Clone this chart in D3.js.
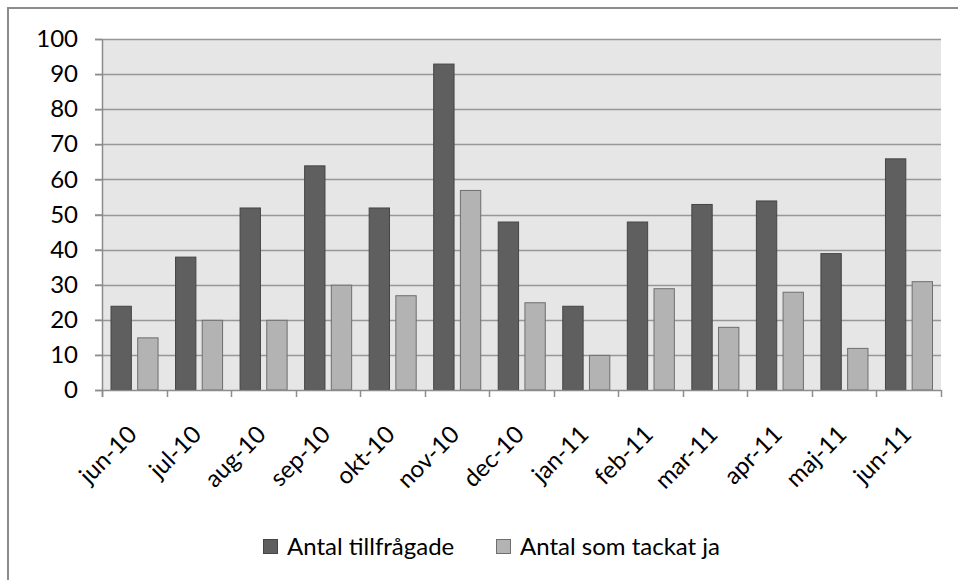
<!DOCTYPE html>
<html>
<head>
<meta charset="utf-8">
<script src="https://cdn.jsdelivr.net/npm/d3@7"></script>
<style>
  html, body { margin: 0; padding: 0; background: #fff; }
  svg { display: block; }
  text { font-family: Lato, "Open Sans", sans-serif; fill: #000; }
</style>
</head>
<body>
<svg id="chart" width="958" height="580"></svg>
<script>
const categories = ["jun-10","jul-10","aug-10","sep-10","okt-10","nov-10","dec-10","jan-11","feb-11","mar-11","apr-11","maj-11","jun-11"];
const seriesNames = ["Antal tillfrågade", "Antal som tackat ja"];
const tillfragade = [24, 38, 52, 64, 52, 93, 48, 24, 48, 53, 54, 39, 66];
const tackatJa = [15, 20, 20, 30, 27, 57, 25, 10, 29, 18, 28, 12, 31];
const yTicks = [0, 10, 20, 30, 40, 50, 60, 70, 80, 90, 100];

const fills = ["#5f5f5f", "#b3b3b3"];
const strokes = ["#454545", "#6e6e6e"];
const FS = 24;

const svg = d3.select("#chart");
const pLeft = 102, pRight = 941, pTop = 39, pBottom = 390;

// chart frame
svg.append("rect")
  .attr("x", 8).attr("y", 8).attr("width", 980).attr("height", 600)
  .attr("fill", "#fff").attr("stroke", "#8c8c8c").attr("stroke-width", 2);

const x0 = d3.scaleBand().domain(categories).range([pLeft, pRight]).padding(0);
const x1 = d3.scaleBand().domain([0, 1])
  .range([8.5, x0.bandwidth() - 8]).paddingInner(0.2);
const y = d3.scaleLinear().domain([0, 100]).range([pBottom, pTop]);

// plot background
svg.append("rect")
  .attr("x", pLeft).attr("y", pTop)
  .attr("width", pRight - pLeft).attr("height", pBottom - pTop)
  .attr("fill", "#e6e6e6");

// grid lines
svg.append("g")
  .selectAll("line").data(yTicks.filter(d => d > 0)).join("line")
  .attr("x1", pLeft - 7).attr("x2", pRight)
  .attr("y1", d => Math.round(y(d)) + 0.5).attr("y2", d => Math.round(y(d)) + 0.5)
  .attr("stroke", "#979797").attr("stroke-width", 1.5);

// bars
const data = categories.map((c, i) => ({ c, vals: [tillfragade[i], tackatJa[i]] }));
const groups = svg.append("g").selectAll("g").data(data).join("g")
  .attr("transform", d => `translate(${x0(d.c)},0)`);
groups.selectAll("rect").data(d => d.vals.map((v, k) => ({ v, k }))).join("rect")
  .attr("x", d => x1(d.k) + 0.5)
  .attr("width", x1.bandwidth() - 1)
  .attr("y", d => y(d.v) + 0.5)
  .attr("height", d => y(0) - y(d.v) - 0.5)
  .attr("fill", d => fills[d.k])
  .attr("stroke", d => strokes[d.k])
  .attr("stroke-width", 1);

// y axis
const yAxis = svg.append("g")
  .attr("transform", `translate(${pLeft},0)`)
  .call(d3.axisLeft(y).tickValues(yTicks).tickSize(7).tickPadding(17));
yAxis.select(".domain").attr("stroke", "#8c8c8c").attr("stroke-width", 1.5)
  .attr("d", `M0.5,${pTop}V${pBottom + 7}`);
yAxis.selectAll(".tick line").attr("stroke", "#8c8c8c").attr("stroke-width", 1.5);
yAxis.selectAll(".tick text")
  .attr("font-size", FS).attr("fill", "#000")
  .style("font-family", "Lato, sans-serif");

// x axis line & ticks at category boundaries
const xg = svg.append("g");
xg.append("line")
  .attr("x1", pLeft - 7).attr("x2", pRight)
  .attr("y1", pBottom + 0.5).attr("y2", pBottom + 0.5)
  .attr("stroke", "#8c8c8c").attr("stroke-width", 1.5);
const boundaries = categories.map(c => x0(c)).concat([x0.range()[1]]);
xg.selectAll("line.t").data(boundaries).join("line")
  .attr("class", "t")
  .attr("x1", d => Math.round(d) + 0.5).attr("x2", d => Math.round(d) + 0.5)
  .attr("y1", pBottom).attr("y2", pBottom + 7)
  .attr("stroke", "#8c8c8c").attr("stroke-width", 1.5);

// x labels (rotated)
xg.selectAll("text").data(categories).join("text")
  .attr("transform", d => `translate(${x0(d) + x0.bandwidth() / 2 + 4},${436}) rotate(-45)`)
  .attr("text-anchor", "end")
  .attr("font-size", FS)
  .text(d => d);

// legend
const legendItems = [
  { name: seriesNames[0], x: 263 },
  { name: seriesNames[1], x: 496 }
];
const lg = svg.append("g");
legendItems.forEach((it, k) => {
  lg.append("rect")
    .attr("x", it.x + 0.5).attr("y", 539.5).attr("width", 14).attr("height", 14)
    .attr("fill", fills[k]).attr("stroke", strokes[k]).attr("stroke-width", 1);
  lg.append("text")
    .attr("x", it.x + 24).attr("y", 555)
    .attr("font-size", FS)
    .text(it.name);
});
</script>
</body>
</html>
